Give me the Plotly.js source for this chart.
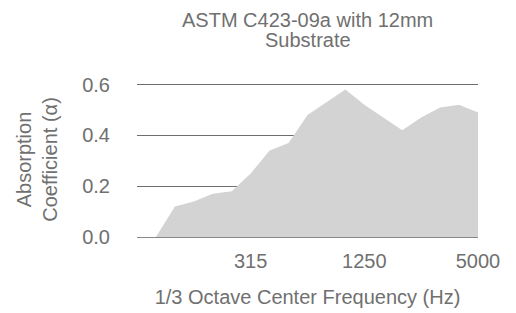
<!DOCTYPE html>
<html>
<head>
<meta charset="utf-8">
<script src="https://cdn.plot.ly/plotly-3.0.1.min.js"></script>
<style>html,body{margin:0;padding:0;background:#fff;}#chart{width:516px;height:313px;}</style>
</head>
<body>
<div id="chart"></div>
<script>
var frequencies = ['100','125','160','200','250','315','400','500','630','800','1000','1250','1600','2000','2500','3150','4000','5000'];
var absorption = [0.0, 0.12, 0.14, 0.17, 0.18, 0.25, 0.34, 0.37, 0.48, 0.53, 0.58, 0.52, 0.47, 0.42, 0.47, 0.51, 0.52, 0.49];
var xTickLabels = ['315','1250','5000'];
var yTickValues = [0, 0.2, 0.4, 0.6];
var yTickLabels = ['0.0','0.2','0.4','0.6'];

var fontFamily = '"Liberation Sans", Arial, sans-serif';
var textColor = '#707070';

var trace = {
  x: frequencies,
  y: absorption,
  type: 'scatter',
  mode: 'lines',
  fill: 'tozeroy',
  fillcolor: '#d3d3d3',
  line: {width: 0, color: '#d3d3d3'},
  hoverinfo: 'x+y'
};

var layout = {
  width: 516,
  height: 313,
  margin: {l: 137, r: 38, t: 82, b: 76},
  paper_bgcolor: '#fff',
  plot_bgcolor: '#fff',
  showlegend: false,
  font: {family: fontFamily, color: textColor, size: 20},
  xaxis: {
    type: 'category',
    range: [-1, 17],
    tickmode: 'array',
    tickvals: xTickLabels,
    ticktext: xTickLabels,
    showgrid: false,
    zeroline: false,
    showline: false,
    ticks: '',
    ticklabelstandoff: 10,
    tickfont: {size: 20, color: textColor, family: fontFamily},
    title: {text: '1/3 Octave Center Frequency (Hz)', font: {size: 20, color: textColor, family: fontFamily}, standoff: 18}
  },
  yaxis: {
    range: [0, 0.61],
    tickmode: 'array',
    tickvals: yTickValues,
    ticktext: yTickLabels,
    showgrid: true,
    gridcolor: '#6e6e6e',
    gridwidth: 1,
    zeroline: true,
    zerolinecolor: '#888',
    zerolinewidth: 1,
    showline: false,
    ticks: '',
    ticklabelstandoff: 26,
    tickfont: {size: 20, color: textColor, family: fontFamily},
    title: {text: 'Absorption<br>Coefficient (α)', font: {size: 20, color: textColor, family: fontFamily}, standoff: 19}
  },
  annotations: [
    {text: 'ASTM C423-09a with 12mm', xref: 'paper', yref: 'paper', x: 0.5, y: (237 - 20) / 155, xanchor: 'center', yanchor: 'middle', showarrow: false, font: {size: 20, color: textColor, family: fontFamily}},
    {text: 'Substrate', xref: 'paper', yref: 'paper', x: 0.5, y: (237 - 40) / 155, xanchor: 'center', yanchor: 'middle', showarrow: false, font: {size: 20, color: textColor, family: fontFamily}}
  ]
};

Plotly.newPlot('chart', [trace], layout, {displayModeBar: false, staticPlot: true});
</script>
</body>
</html>
